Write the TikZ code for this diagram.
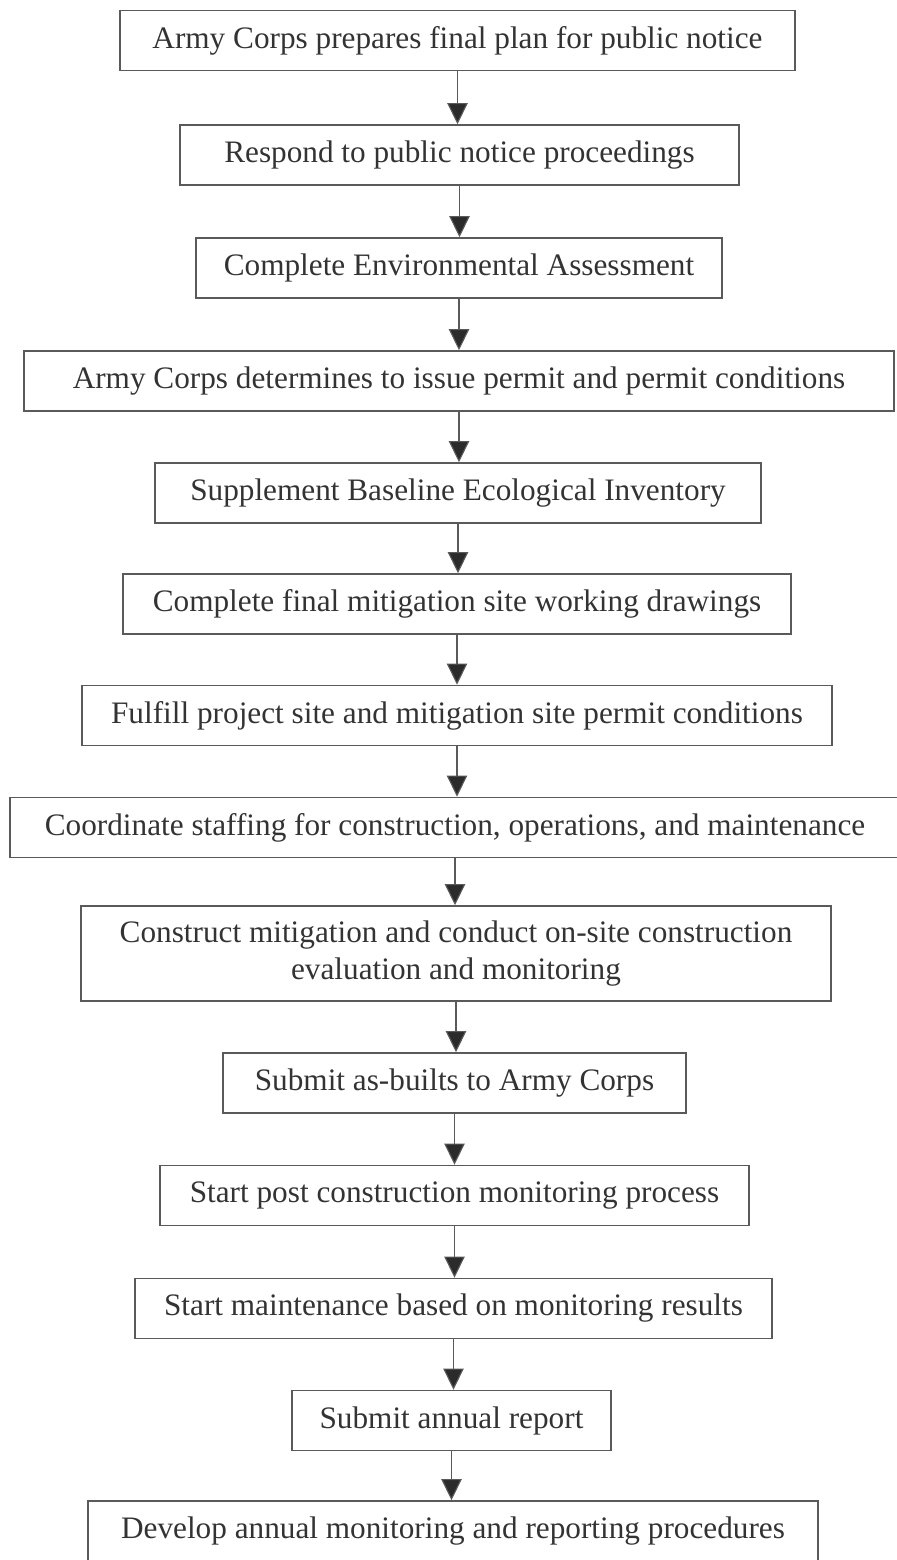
\documentclass[tikz,border=0pt]{standalone}
\usepackage{fontspec}
\setmainfont{Liberation Serif}
\usetikzlibrary{arrows.meta}
\definecolor{inkgray}{HTML}{333333}
\definecolor{linegray}{HTML}{5A5A5A}
\definecolor{tipgray}{HTML}{2B2B2B}
\begin{document}
\begin{tikzpicture}[x=0.4pt, y=-0.4pt,
        >={Triangle[length=8.5pt, width=8.2pt, fill=tipgray]},
        stepbox/.style={draw=linegray, line width=0.6pt, text=inkgray,
            minimum height=24pt, inner sep=2pt, align=center,
            font=\fontsize{12.5pt}{15pt}\selectfont},
        flow/.style={->, linegray, line width=0.45pt}]
        % --- Khung ---
        \useasboundingbox (0,0) rectangle (897,1560);

        % --- Các bước ---
        \node[stepbox, minimum width=270pt] (plan) at (457.5, 40.5)
            {Army Corps prepares final plan for public notice};
        \node[stepbox, minimum width=223.6pt] (respond) at (459.5, 155)
            {Respond to public notice proceedings};
        \node[stepbox, minimum width=210.4pt] (assess) at (459, 268)
            {Complete Environmental Assessment};
        \node[stepbox, minimum width=348pt] (permit) at (459, 381)
            {Army Corps determines to issue permit and permit conditions};
        \node[stepbox, minimum width=242.4pt] (baseline) at (458, 493)
            {Supplement Baseline Ecological Inventory};
        \node[stepbox, minimum width=267.2pt] (drawings) at (457, 604)
            {Complete final mitigation site working drawings};
        \node[stepbox, minimum width=300pt] (fulfill) at (457, 715.5)
            {Fulfill project site and mitigation site permit conditions};
        \node[stepbox, minimum width=356pt] (staffing) at (455, 827.5)
            {Coordinate staffing for construction, operations, and maintenance};
        \node[stepbox, minimum width=300pt, minimum height=38pt] (construct) at (456, 953.5)
            {Construct mitigation and conduct on-site construction\\evaluation and monitoring};
        \node[stepbox, minimum width=185.2pt] (asbuilt) at (454.5, 1083)
            {Submit as-builts to Army Corps};
        \node[stepbox, minimum width=235.6pt] (postmon) at (454.5, 1195.5)
            {Start post construction monitoring process};
        \node[stepbox, minimum width=254.8pt] (maint) at (453.5, 1308.5)
            {Start maintenance based on monitoring results};
        \node[stepbox, minimum width=127.6pt] (annual) at (451.5, 1420.5)
            {Submit annual report};
        \node[stepbox, minimum width=292pt] (develop) at (453, 1531)
            {Develop annual monitoring and reporting procedures};

        % --- Mũi tên ---
        \foreach \a/\b in {plan/respond, respond/assess, assess/permit,
                permit/baseline, baseline/drawings, drawings/fulfill,
                fulfill/staffing, staffing/construct, construct/asbuilt,
                asbuilt/postmon, postmon/maint, maint/annual, annual/develop}
            \draw[flow] (\a.south) -- (\a.south |- \b.north);
    \end{tikzpicture}
\end{document}
